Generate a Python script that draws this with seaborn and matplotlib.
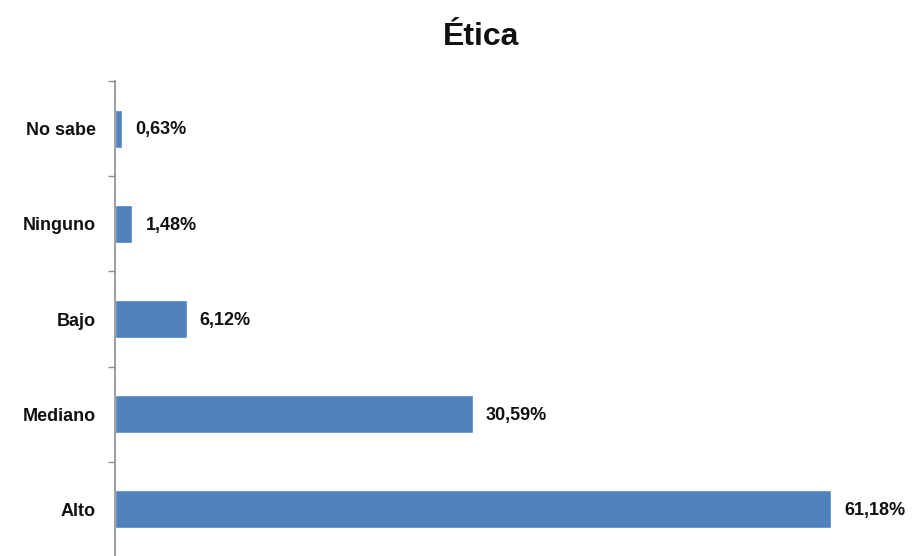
import matplotlib
matplotlib.use("Agg")
import matplotlib.pyplot as plt
import seaborn as sns
import pandas as pd
import numpy as np

categories = ["No sabe", "Ninguno", "Bajo", "Mediano", "Alto"]
values = [0.63, 1.48, 6.12, 30.59, 61.18]
value_labels = ["0,63%", "1,48%", "6,12%", "30,59%", "61,18%"]
title = "Ética"

sns.set_theme(style="white")
plt.rcParams["font.family"] = ["Liberation Sans", "DejaVu Sans"]

df = pd.DataFrame({"categoria": categories, "valor": values})

fig = plt.figure(figsize=(9.13, 5.56), dpi=100)
ax = fig.add_axes([115 / 913, -1 / 556, 1 - 115 / 913, (556 - 80) / 556])

sns.barplot(data=df, y="categoria", x="valor", orient="h", order=categories,
            color="#4F81BD", saturation=1, width=0.4, ax=ax)

ax.set_xlim(0, (913 - 115) / 11.70)
ax.set_ylim(len(categories) - 0.5, -0.5)

for i, (v, lab) in enumerate(zip(values, value_labels)):
    ax.annotate(lab, xy=(v, i), xytext=(9.5, -1), textcoords="offset points",
                ha="left", va="center", fontsize=13, fontweight="bold", color="#111111")

ax.set_xlabel("")
ax.set_ylabel("")
ax.set_xticks([])
for s in ["top", "right", "bottom"]:
    ax.spines[s].set_visible(False)
ax.spines["left"].set_color("#8c8c8c")
ax.spines["left"].set_linewidth(1.2)

ax.set_yticks(np.arange(-0.5, len(categories) + 0.5, 1), minor=True)
ax.tick_params(axis="y", which="minor", length=5, width=1, color="#8c8c8c", left=True)
ax.tick_params(axis="y", which="major", length=0, pad=14)
for t in ax.get_yticklabels():
    t.set_fontsize(13)
    t.set_fontweight("bold")
    t.set_color("#111111")

fig.text(481 / 913, 1 - 45 / 556, title, ha="center", va="baseline",
         fontsize=23, fontweight="bold", color="#111111")

fig.savefig("out.png", dpi=100)
